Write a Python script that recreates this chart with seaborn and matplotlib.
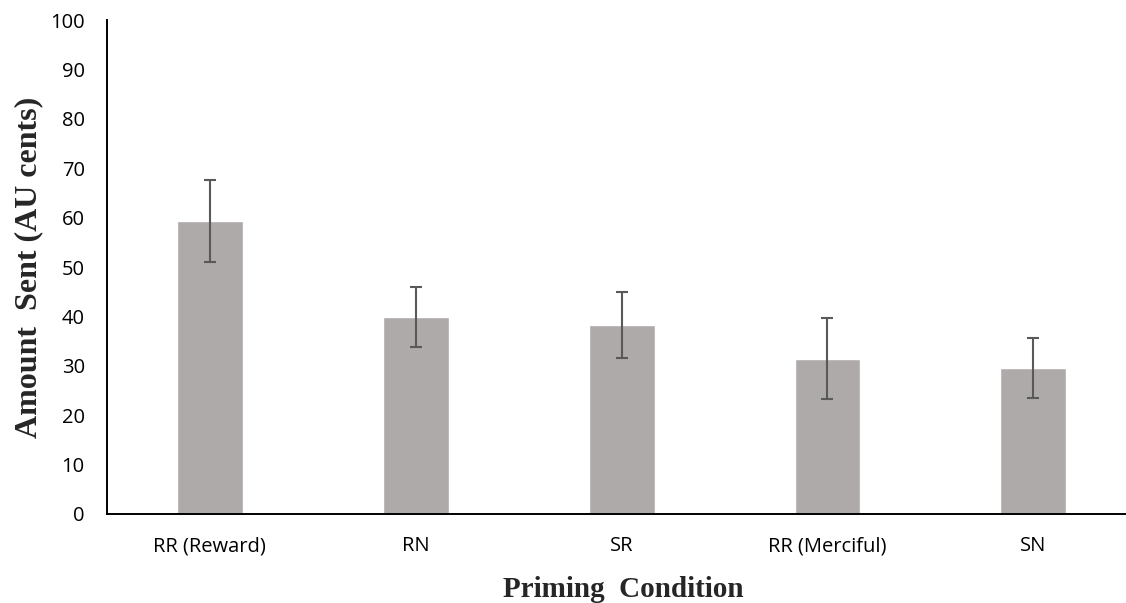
import pandas as pd
import numpy as np
import seaborn as sns
import matplotlib.pyplot as plt

conditions = ['RR (Reward)', 'RN', 'SR', 'RR (Merciful)', 'SN']
amount = [59.4, 39.9, 38.3, 31.4, 29.6]
err = [8.3, 6.0, 6.7, 8.2, 6.1]

data = pd.DataFrame({'condition': conditions, 'amount': amount, 'err': err})

sns.set_style('white')
plt.rcParams['font.family'] = ['Open Sans', 'DejaVu Sans']

fig = plt.figure(figsize=(11.26, 6.03), dpi=100)
ax = fig.add_axes([0.095, 0.1476, 0.905, 0.8192])

sns.barplot(x='condition', y='amount', data=data, color='#aeaaa9', width=0.32,
            errorbar=None, saturation=1, ax=ax)
ax.errorbar(x=np.arange(len(conditions)), y=data.amount, yerr=data.err, fmt='none',
            ecolor='#595959', elinewidth=1.5, capsize=4.5, capthick=1.5)

ax.set_ylim(0, 100)
ax.set_xlim(-0.5, 4.45)
ax.set_yticks(range(0, 101, 10))
ax.tick_params(axis='both', labelsize=14.5, colors='black', length=0)
ax.tick_params(axis='x', pad=16)
ax.tick_params(axis='y', pad=16)
for s in ['top', 'right']:
    ax.spines[s].set_visible(False)
for s in ['left', 'bottom']:
    ax.spines[s].set_color('black')
    ax.spines[s].set_linewidth(1.4)

ax.set_xlabel('Priming  Condition', family='Liberation Serif', fontweight='bold',
              fontsize=21, labelpad=12)
ax.xaxis.set_label_coords(0.507, -0.125)
ax.set_ylabel('Amount  Sent (AU cents)', family='Liberation Serif', fontweight='bold',
              fontsize=23, labelpad=5)

fig.savefig('out.png', dpi=100)
